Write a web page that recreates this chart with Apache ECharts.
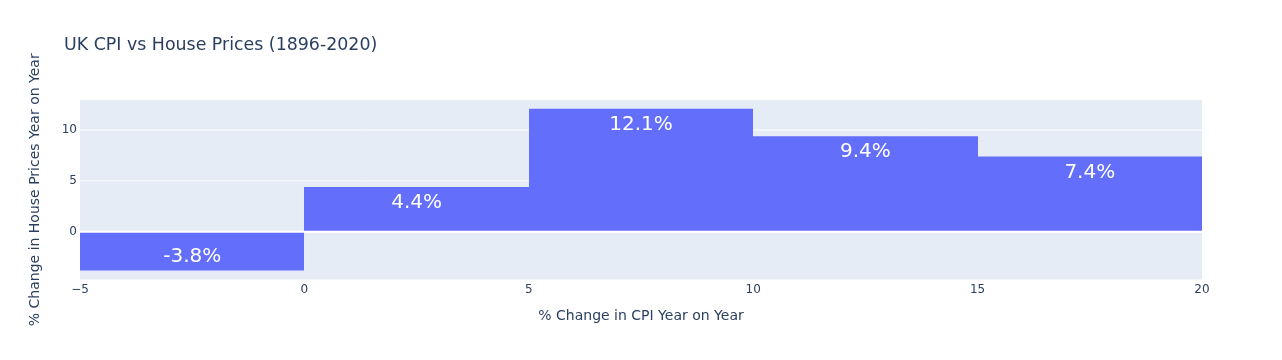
<!DOCTYPE html>
<html>
<head>
<meta charset="utf-8">
<script src="https://cdn.jsdelivr.net/npm/echarts@6/dist/echarts.min.js"></script>
<style>html,body{margin:0;padding:0;background:#fff}#c{width:1282px;height:360px}</style>
</head>
<body>
<div id="c"></div>
<script>
const binEdges = [-5, 0, 5, 10, 15, 20];
const values = [-3.8, 4.4, 12.1, 9.4, 7.4];
const labels = ['-3.8%', '4.4%', '12.1%', '9.4%', '7.4%'];
const xTicks = [-5, 0, 5, 10, 15, 20];
const yTicks = [0, 5, 10];

const data = values.map((v, i) => [binEdges[i], binEdges[i + 1], v, labels[i]]);
const FONT = '"DejaVu Sans", verdana, arial, sans-serif';
const chart = echarts.init(document.getElementById('c'), null, {renderer: 'canvas'});
chart.setOption({
  backgroundColor: '#fff',
  animation: false,
  title: {
    text: 'UK CPI vs House Prices (1896-2020)',
    left: 59, top: 32,
    textStyle: {fontFamily: FONT, fontSize: 17.4, fontWeight: 'normal', color: '#2a3f5f'}
  },
  grid: {left: 80, right: 80, top: 100, height: 179.5, show: true, backgroundColor: '#E5ECF6', borderWidth: 0},
  xAxis: {
    type: 'value', min: -5, max: 20, interval: 5,
    name: '% Change in CPI Year on Year', nameLocation: 'middle', nameGap: 30,
    nameTextStyle: {fontFamily: FONT, fontSize: 14, color: '#2a3f5f'},
    axisLine: {show: false}, axisTick: {show: false}, splitLine: {show: false},
    axisLabel: {fontFamily: FONT, fontSize: 12, color: '#2a3f5f', margin: 4,
      formatter: v => String(v).replace('-', '\u2212')}
  },
  yAxis: {
    type: 'value', min: -4.68, max: 12.95,
    name: '% Change in House Prices Year on Year', nameLocation: 'middle', nameGap: 38,
    nameTextStyle: {fontFamily: FONT, fontSize: 14, color: '#2a3f5f'},
    axisLine: {show: false},
    axisTick: {show: false, customValues: yTicks},
    axisLabel: {fontFamily: FONT, fontSize: 12, color: '#2a3f5f', margin: 3, customValues: yTicks},
    splitLine: {show: false}
  },
  series: [{
    type: 'custom',
    silent: true,
    z: 1,
    renderItem: function (params, api) {
      if (params.dataIndex !== 0) return;
      const children = [];
      const xs = api.coord([-5, 0])[0], xe = api.coord([20, 0])[0];
      yTicks.forEach(t => {
        const y = api.coord([0, t])[1];
        children.push({type: 'line', shape: {x1: xs, y1: y, x2: xe, y2: y},
          style: {stroke: '#ffffff', lineWidth: t === 0 ? 2 : 1}});
      });
      return {type: 'group', children: children};
    },
    data: [[0, 0]]
  }, {
    type: 'custom',
    z: 2,
    renderItem: function (params, api) {
      const x0 = api.value(0), x1 = api.value(1), v = api.value(2);
      const p0 = api.coord([x0, 0]);
      const p1 = api.coord([x1, v]);
      const top = Math.min(p0[1], p1[1]);
      const h = Math.abs(p1[1] - p0[1]);
      const lbl = data[params.dataIndex][3];
      const xa = Math.round(p0[0]), xb = Math.round(p1[0]);
      const cx = (p0[0] + p1[0]) / 2;
      const ty = v >= 0 ? p1[1] + 6 : p1[1] - 4;
      return {
        type: 'group',
        children: [
          {type: 'rect', shape: {x: xa, y: top, width: xb - xa, height: h},
            style: {fill: '#636efa'}},
          {type: 'text', style: {text: lbl, x: cx, y: ty, align: 'center',
            verticalAlign: v >= 0 ? 'top' : 'bottom',
            fill: '#ffffff', fontSize: 20, fontFamily: FONT}}
        ]
      };
    },
    data: data
  }, {
    type: 'custom',
    z: 3,
    silent: true,
    renderItem: function (params, api) {
      if (params.dataIndex !== 0) return;
      const xs = api.coord([-5, 0])[0], xe = api.coord([20, 0])[0];
      const y = api.coord([0, 0])[1];
      return {type: 'line', shape: {x1: xs, y1: y, x2: xe, y2: y}, style: {stroke: '#ffffff', lineWidth: 2}};
    },
    data: [[0, 0]]
  }]
});
</script>
</body>
</html>
